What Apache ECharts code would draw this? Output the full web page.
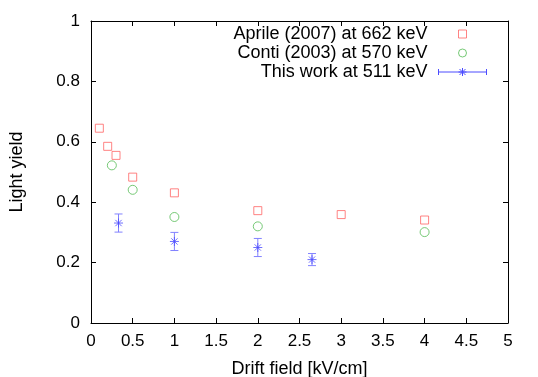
<!DOCTYPE html>
<html>
<head>
<meta charset="utf-8">
<script src="https://cdn.jsdelivr.net/npm/echarts@6/dist/echarts.min.js"></script>
<style>
  html, body { margin: 0; padding: 0; background: #fff; }
  #chart { width: 538px; height: 377px; }
</style>
</head>
<body>
<div id="chart"></div>
<script>
// data: [drift field kV/cm, light yield]
var aprileData = [[0.1, 0.645], [0.2, 0.585], [0.3, 0.555], [0.5, 0.483], [1, 0.431], [2, 0.372], [3, 0.359], [4, 0.341]];
var contiData = [[0.25, 0.522], [0.5, 0.441], [1, 0.351], [2, 0.32], [4, 0.301]];
// [x, y, error]
var thisWorkData = [[0.33, 0.331, 0.03], [1, 0.27, 0.03], [2, 0.25, 0.03], [2.65, 0.21, 0.02]];

var names = ['Aprile (2007) at 662 keV', 'Conti (2003) at 570 keV', 'This work at 511 keV'];
var red = '#ff6464', green = '#55bb55', blue = '#4c4cff', lightBlue = '#8282ff';
var font = 'Liberation Sans';
var fs = 17;

var starPath = 'path://M5,0L5,10M0,5L10,5M1.5,1.5L8.5,8.5M8.5,1.5L1.5,8.5';

var chart = echarts.init(document.getElementById('chart'));

function axisCommon() {
    return {
        type: 'value',
        axisLine: { show: true, onZero: false, lineStyle: { color: '#000', width: 1 } },
        axisTick: { show: true, inside: true, length: 5, lineStyle: { color: '#000' } },
        splitLine: { show: false }
    };
}

var xBottom = Object.assign(axisCommon(), {
    min: 0, max: 5, interval: 0.5, position: 'bottom',
    name: 'Drift field [kV/cm]', nameLocation: 'middle', nameGap: 37,
    nameTextStyle: { fontFamily: font, fontSize: 18, color: '#000' },
    axisLabel: { fontFamily: font, fontSize: fs, color: '#000', margin: 10 }
});
var xTop = Object.assign(axisCommon(), {
    min: 0, max: 5, interval: 0.5, position: 'top', axisLabel: { show: false }
});
var yLeft = Object.assign(axisCommon(), {
    min: 0, max: 1, interval: 0.2, position: 'left',
    name: 'Light yield', nameLocation: 'middle', nameGap: 65, nameRotate: 90,
    nameTextStyle: { fontFamily: font, fontSize: 18, color: '#000' },
    axisLabel: { fontFamily: font, fontSize: fs, color: '#000', margin: 11 }
});
var yRight = Object.assign(axisCommon(), {
    min: 0, max: 1, interval: 0.2, position: 'right', axisLabel: { show: false }
});

chart.setOption({
    animation: false,
    backgroundColor: '#fff',
    grid: { left: 91, top: 21, width: 417, height: 302, containLabel: false, outerBoundsMode: 'none' },
    xAxis: [xBottom, xTop],
    yAxis: [yLeft, yRight],
    legend: {
        orient: 'vertical',
        right: 46,
        top: 20,
        align: 'right',
        itemWidth: 48,
        itemHeight: 8,
        itemGap: 1,
        symbolKeepAspect: true,
        textStyle: { fontFamily: font, fontSize: 18, color: '#000', padding: [0, 6, 0, 0] },
        data: [
            { name: names[0], icon: 'path://M0,0L1,0L1,1L0,1Z',
              itemStyle: { color: 'rgba(0,0,0,0)', borderColor: red, borderWidth: 1 } },
            { name: names[1], icon: 'circle',
              itemStyle: { color: 'rgba(0,0,0,0)', borderColor: green, borderWidth: 1 } },
            { name: names[2], icon: 'path://M0,5L48,5M0,2L0,8M48,2L48,8M24,1L24,9M20,5L28,5M21,2L27,8M27,2L21,8',
              itemStyle: { color: 'rgba(0,0,0,0)', borderColor: blue, borderWidth: 1 } }
        ]
    },
    series: [
        {
            name: names[0], type: 'scatter', data: aprileData,
            symbol: 'rect', symbolSize: 8,
            itemStyle: { color: 'rgba(0,0,0,0)', borderColor: red, borderWidth: 1 }
        },
        {
            name: names[1], type: 'scatter', data: contiData,
            symbol: 'circle', symbolSize: 9,
            itemStyle: { color: 'rgba(0,0,0,0)', borderColor: green, borderWidth: 1 }
        },
        {
            name: names[2], type: 'custom', data: thisWorkData,
            renderItem: function (params, api) {
                var x = api.value(0), y = api.value(1), e = api.value(2);
                var hi = api.coord([x, y + e]);
                var lo = api.coord([x, y - e]);
                var cap = 4;
                var st = { stroke: lightBlue, lineWidth: 1, fill: null };
                return {
                    type: 'group',
                    children: [
                        { type: 'line', shape: { x1: hi[0], y1: hi[1], x2: lo[0], y2: lo[1] }, style: st },
                        { type: 'line', shape: { x1: hi[0] - cap, y1: hi[1], x2: hi[0] + cap, y2: hi[1] }, style: st },
                        { type: 'line', shape: { x1: lo[0] - cap, y1: lo[1], x2: lo[0] + cap, y2: lo[1] }, style: st }
                    ]
                };
            },
            z: 2
        },
        {
            name: names[2], type: 'scatter',
            data: thisWorkData.map(function (d) { return [d[0], d[1]]; }),
            symbol: starPath, symbolSize: 9,
            itemStyle: { color: 'rgba(0,0,0,0)', borderColor: blue, borderWidth: 1 },
            z: 3
        }
    ]
});
</script>
</body>
</html>
